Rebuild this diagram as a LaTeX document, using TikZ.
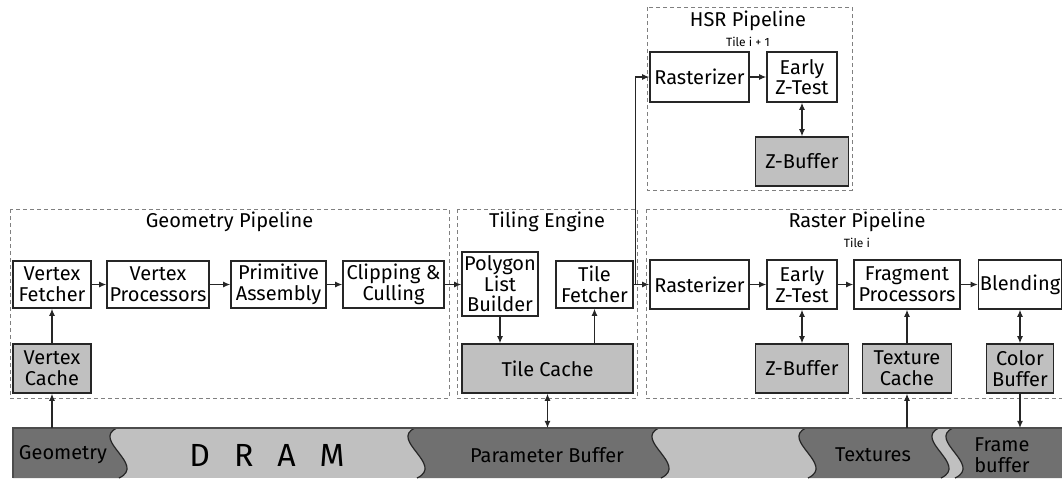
\documentclass[tikz,border=0pt]{standalone}
\usepackage{fontspec}
\setmainfont{Fira Sans}
\usetikzlibrary{arrows.meta}
\definecolor{cachegray}{HTML}{C0C0C0}
\definecolor{dramdark}{HTML}{707070}
\definecolor{dramlight}{HTML}{C0C0C0}
\definecolor{framegray}{HTML}{808080}

\begin{document}
\begin{tikzpicture}[x=0.5pt, y=-0.5pt, >={Latex[length=3.6pt,width=3pt]},
    unit/.style={draw=black!85, line width=0.7pt, fill=white, align=center, inner sep=0pt,
      minimum height=23.5pt, font=\fontsize{10}{10.3}\selectfont},
    cache/.style={unit, fill=cachegray, minimum height=24.5pt},
    stage/.style={draw=framegray, line width=0.45pt, dash pattern=on 2pt off 1.5pt},
    title/.style={font=\fontsize{10}{10.3}\selectfont, inner sep=0pt},
    tilelbl/.style={font=\fontsize{6}{7}\selectfont, inner sep=0pt},
    dramlbl/.style={font=\fontsize{10}{10.3}\selectfont, align=center, inner sep=0pt},
    flow/.style={->, line width=0.6pt, black!85}]
  \useasboundingbox (0,0) rectangle (1062,478);

  % Pipeline frames
  \draw[stage] (10,209) rectangle (449,398);
  \draw[stage] (457,209) rectangle (637,398);
  \draw[stage] (646,209) rectangle (1075,398);
  \draw[stage] (647,7) rectangle (852,190);
  \node[title] (geot) at (229.5,222) {Geometry Pipeline};
  \node[title] (tilet) at (547,222) {Tiling Engine};
  \node[title] (rastt) at (857,222) {Raster Pipeline};
  \node[tilelbl] (rasti) at (857,243) {Tile i};
  \node[title] (hsrt) at (748,21) {HSR Pipeline};
  \node[tilelbl] (hsri) at (748,42) {Tile i + 1};

  % Geometry pipeline
  \node[unit, minimum width=39pt] (vf) at (52,284.5) {Vertex\\Fetcher};
  \node[unit, minimum width=51pt] (vp) at (158,284.5) {Vertex\\Processors};
  \node[unit, minimum width=47.5pt] (pa) at (278.5,284.5) {Primitive\\Assembly};
  \node[unit, minimum width=50.5pt] (cc) at (393.5,284.5) {Clipping \&\\Culling};
  \node[cache, minimum width=39pt] (vc) at (52,368.5) {Vertex\\Cache};

  % Tiling engine
  \node[unit, minimum width=38pt, minimum height=32pt] (plb) at (500,284) {Polygon\\List\\Builder};
  \node[unit, minimum width=38.5pt] (tf) at (594.5,284.5) {Tile\\Fetcher};
  \node[cache, minimum width=85.5pt] (tc) at (547.5,368.5) {Tile Cache};

  % Raster pipeline
  \node[unit, minimum width=49.5pt, minimum height=24.5pt] (ras) at (699.5,284.5) {Rasterizer};
  \node[unit, minimum width=35pt, minimum height=24.5pt] (ez) at (802,284.5) {Early\\Z-Test};
  \node[unit, minimum width=53pt, minimum height=24.5pt] (fp) at (907,284.5) {Fragment\\Processors};
  \node[unit, minimum width=41.5pt, minimum height=24.5pt] (bl) at (1020,284.5) {Blending};
  \node[cache, minimum width=46.5pt] (zb) at (802,368.5) {Z-Buffer};
  \node[cache, minimum width=44.5pt] (texc) at (907,368.5) {Texture\\Cache};
  \node[cache, minimum width=33.5pt] (cb) at (1020,368.5) {Color\\Buffer};

  % HSR pipeline
  \node[unit, minimum width=49.5pt, minimum height=25pt] (hras) at (699.5,77) {Rasterizer};
  \node[unit, minimum width=35pt, minimum height=25pt] (hez) at (802,77) {Early\\Z-Test};
  \node[cache, minimum width=46.5pt] (hzb) at (802,161.5) {Z-Buffer};

  % DRAM
  \fill[dramlight] (13,428) rectangle (1062,478);
  \fill[dramdark] (13,428) -- (117,428) .. controls (91,440) and (147,465) .. (119,478) -- (13,478) -- cycle;
  \foreach \a/\b in {415/659, 806/939}
    \fill[dramdark] (\a,428) -- (\b,428) .. controls (\b-26,440) and (\b+30,465) .. (\b+2,478)
      -- (\a+2,478) .. controls (\a+30,465) and (\a-26,440) .. (\a,428) -- cycle;
  \fill[dramdark] (953,428) -- (1062,428) -- (1062,478) -- (955,478) .. controls (983,465) and (927,440) .. (953,428) -- cycle;
  \foreach \b in {117,415,659,806,939,953}
    \draw[line width=0.6pt, black!85] (\b,428) .. controls (\b-26,440) and (\b+30,465) .. (\b+2,478);
  \draw[line width=0.7pt, black!70] (13,478) -- (13,428) -- (1062,428);
  \node[dramlbl] (geo) at (63,455) {Geometry};
  \node[font=\fontsize{16}{18}\selectfont, inner sep=0pt] (dram) at (267,455) {D\hspace{0.75em}R\hspace{0.75em}A\hspace{0.75em}M};
  \node[dramlbl] (parbuf) at (547,455) {Parameter Buffer};
  \node[dramlbl] (tex) at (873,455) {Textures};
  \node[dramlbl] (fbuf) at (1002,455) {Frame\\buffer};
  \coordinate (geoport) at (52,428);
  \coordinate (parport) at (547.5,428);
  \coordinate (texport) at (907,428);
  \coordinate (fbport) at (1020,428);

  % Connections
  \draw[flow] (geoport) -- (vc.south);
  \draw[flow] (vc) -- (vf);
  \draw[flow] (vf) -- (vp);
  \draw[flow] (vp) -- (pa);
  \draw[flow] (pa) -- (cc);
  \draw[flow] (cc.east) -- (cc.east -| plb.west);
  \draw[flow] (plb.south) -- (plb.south |- tc.north);
  \draw[flow] (tf.south |- tc.north) -- (tf.south);
  \draw[flow, <->] (tc.south) -- (parport);
  \draw[flow] (tf.east) -- (tf.east -| ras.west);
  \draw[flow] (tf.east) -- ++(2,0) |- (hras.west);
  \draw[flow] (ras) -- (ez);
  \draw[flow] (ez) -- (fp);
  \draw[flow] (fp) -- (bl);
  \draw[flow, <->] (ez) -- (zb);
  \draw[flow] (texc) -- (fp);
  \draw[flow, <->] (bl) -- (cb);
  \draw[flow] (texport) -- (texc.south);
  \draw[flow] (cb.south) -- (fbport);
  \draw[flow] (hras) -- (hez);
  \draw[flow, <->] (hez) -- (hzb);
\end{tikzpicture}
\end{document}
